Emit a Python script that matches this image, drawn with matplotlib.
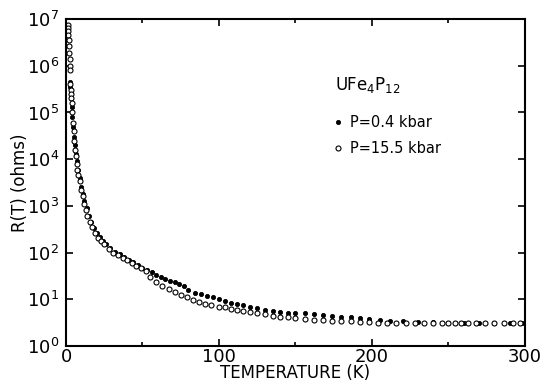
import matplotlib
matplotlib.use("Agg")
import matplotlib.pyplot as plt
from matplotlib.ticker import FixedLocator, MultipleLocator, NullLocator

# P = 0.4 kbar (filled dots)
t_low = [2.5, 2.8, 3.0, 3.3, 3.7, 4.2, 4.8, 5.4, 6.0, 6.6, 7.2, 8.0, 9.0, 10, 11, 12,
         13.5, 15, 16.5, 18, 20, 22, 24, 26, 29, 32, 35, 38, 41, 44, 47, 50, 53, 56,
         59, 62, 65, 68, 71, 74, 77, 80, 84, 88, 92, 96, 100, 104, 108, 112, 116, 120,
         125, 130, 135, 140, 145, 150, 156, 162, 168, 174, 180, 186, 192, 198, 205,
         212, 220, 230, 240, 250, 260, 270, 280, 290, 298]
r_low = [4.5e5, 3.5e5, 2.8e5, 2.0e5, 1.3e5, 8e4, 5e4, 3e4, 2e4, 1.3e4, 9e3, 6e3, 4e3,
         2.6e3, 1.8e3, 1.3e3, 900, 600, 450, 340, 270, 220, 180, 155, 125, 105, 92, 80,
         70, 62, 55, 48, 42, 38, 34, 30, 27, 25, 23, 21, 19, 16, 14, 12.8, 11.7, 11,
         10, 9.2, 8.5, 8.0, 7.4, 7.0, 6.4, 6.0, 5.6, 5.4, 5.2, 5.1, 5.0, 4.9, 4.6, 4.4,
         4.3, 4.2, 4.0, 3.8, 3.6, 3.5, 3.4, 3.3, 3.25, 3.2, 3.2, 3.15, 3.15, 3.1, 3.2]

# P = 15.5 kbar (open circles)
t_high = [1.0, 1.2, 1.4, 1.6, 1.8, 2.0, 2.2, 2.3, 2.5, 2.7, 2.8, 3.0, 3.2, 3.4, 3.6,
          4.0, 4.5, 5.0, 5.5, 6.0, 6.5, 7.0, 7.5, 8, 9, 10, 11, 12, 13, 14, 15.5, 17,
          19, 21, 23, 25, 28, 31, 34, 37, 40, 43, 46, 49, 52, 55, 59, 63, 67, 71, 75,
          79, 83, 87, 91, 95, 100, 104, 108, 112, 116, 120, 125, 130, 135, 140, 145,
          150, 156, 162, 168, 174, 180, 186, 192, 198, 204, 210, 216, 222, 228, 234,
          240, 246, 250, 254, 258, 263, 268, 274, 280, 286, 292, 297]
r_high = [7.5e6, 6.5e6, 5.5e6, 4.5e6, 3.5e6, 2.6e6, 1.9e6, 1.4e6, 1.0e6, 8e5, 4e5, 3e5,
          2.5e5, 2e5, 1.6e5, 1.0e5, 6e4, 4e4, 2.5e4, 1.6e4, 1.2e4, 8e3, 6e3, 4.5e3,
          3.5e3, 2.2e3, 1.6e3, 1.1e3, 800, 600, 450, 350, 260, 210, 180, 150, 120, 100,
          90, 78, 68, 60, 53, 46, 41, 30, 23, 19.5, 17, 14.5, 12.5, 11, 9.7, 8.7, 8.0,
          7.5, 7.0, 6.8, 6.2, 5.8, 5.6, 5.3, 5.0, 4.8, 4.5, 4.2, 4.1, 4.0, 3.8, 3.65,
          3.55, 3.5, 3.45, 3.4, 3.3, 3.25, 3.2, 3.2, 3.2, 3.2, 3.15, 3.15, 3.15, 3.1,
          3.2, 3.15, 3.1, 3.1, 3.1, 3.1, 3.1, 3.1, 3.1, 3.1]

fig = plt.figure(figsize=(5.5, 3.85), dpi=100)
ax = fig.add_axes([0.12, 0.101, 0.8345, 0.8496])

l1, = ax.plot(t_low, r_low, 'o', ms=3, color='black', mec='black', mew=0.6,
              label='P=0.4 kbar')
l2, = ax.plot(t_high, r_high, 'o', ms=3.6, mfc='white', mec='black', mew=0.8,
              label='P=15.5 kbar')

ax.set_yscale('log')
ax.set_xlim(0, 300)
ax.set_ylim(1, 1e7)
# fixed decades only, so no labels sit outside the axes
ax.yaxis.set_major_locator(FixedLocator([10.0 ** k for k in range(8)]))
ax.yaxis.set_minor_locator(NullLocator())
ax.xaxis.set_major_locator(FixedLocator([0, 100, 200, 300]))
ax.xaxis.set_minor_locator(FixedLocator([50, 150, 250]))
ax.tick_params(which='both', direction='in', top=True, right=True, width=1.2)
ax.tick_params(which='major', length=5, labelsize=13)
ax.tick_params(axis='x', pad=1)
ax.tick_params(axis='y', pad=5)
ax.tick_params(which='minor', length=3)
for s in ax.spines.values():
    s.set_linewidth(1.5)

ax.set_xlabel('TEMPERATURE (K)', fontsize=12, labelpad=-1)
ax.set_ylabel('R(T) (ohms)', fontsize=12, labelpad=-2)

ax.text(0.586, 0.798, 'UFe$_4$P$_{12}$', transform=ax.transAxes, fontsize=12,
        ha='left', va='center')
ax.legend(handles=[l1, l2], loc='upper left', bbox_to_anchor=(0.58, 0.707),
          frameon=False, fontsize=10.5, handlelength=0.8, handletextpad=0.4,
          labelspacing=0.75, borderpad=0, borderaxespad=0)

fig.savefig('out.png', dpi=100)
